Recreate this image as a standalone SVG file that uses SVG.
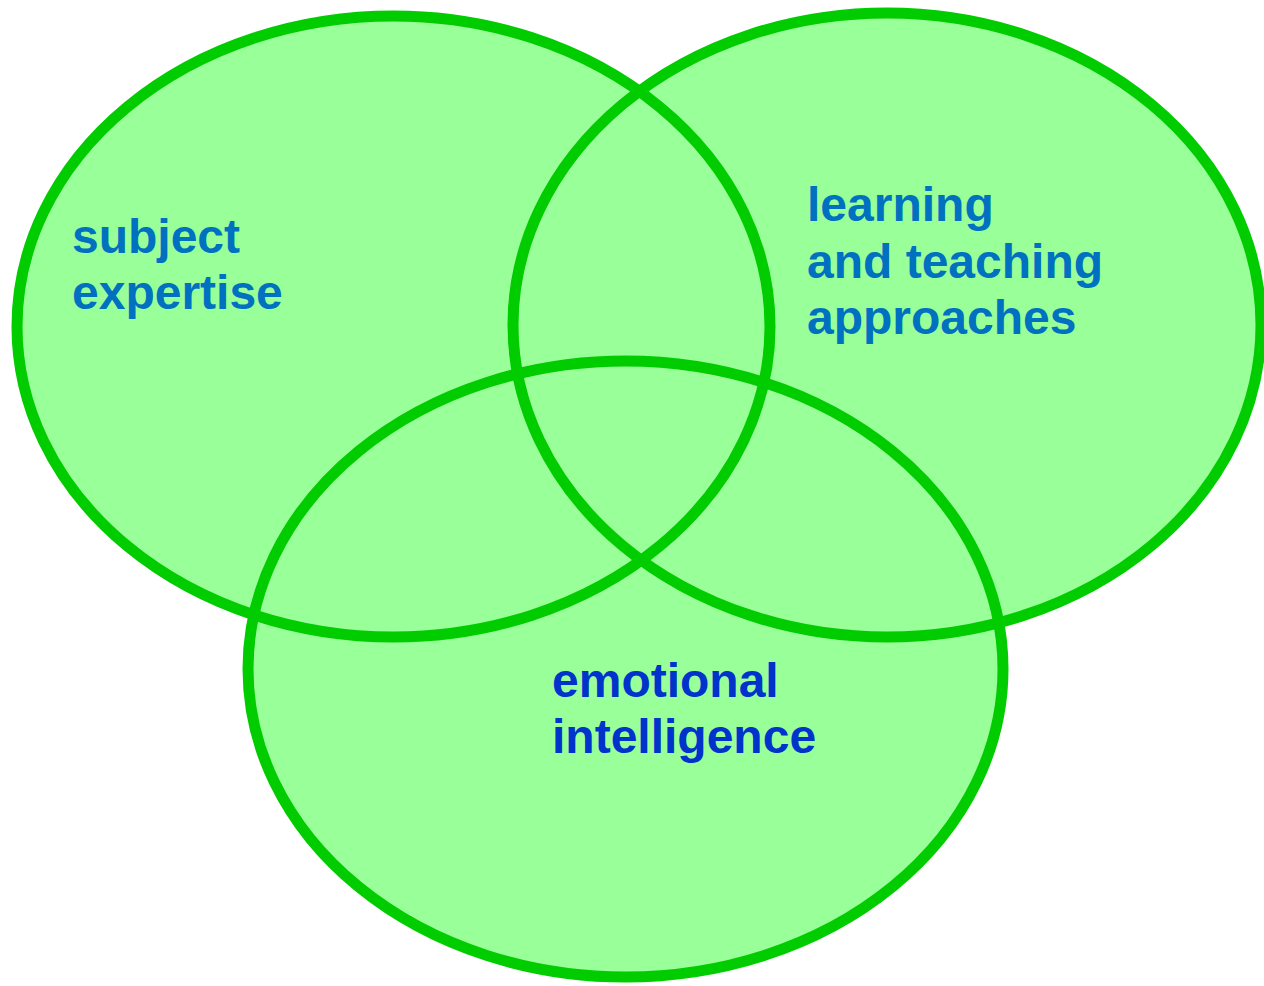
<svg xmlns="http://www.w3.org/2000/svg" width="1264" height="986" viewBox="0 0 1264 986">
<style>
.fill{fill:#99FF99;stroke:none}
.ring{fill:none;stroke:#00CC00;stroke-width:11}
.lbl{font-family:"Liberation Sans",Arial,sans-serif;font-weight:bold;font-size:48px;fill:#0070C0}
.lbl2{fill:#0033CC}
</style>
<rect width="1264" height="986" fill="#FFFFFF"/>
<g id="fills">
<ellipse class="fill" cx="393.5" cy="326.5" rx="376.5" ry="310.5"/>
<ellipse class="fill" cx="887" cy="325" rx="374" ry="312"/>
<ellipse class="fill" cx="625.5" cy="669" rx="377.5" ry="308"/>
</g>
<g id="subject-expertise">
<ellipse class="ring" cx="393.5" cy="326.5" rx="376.5" ry="310.5"/>
<text class="lbl" x="72" y="253">subject</text>
<text class="lbl" x="72" y="309">expertise</text>
</g>
<g id="learning-teaching">
<ellipse class="ring" cx="887" cy="325" rx="374" ry="312"/>
<text class="lbl" x="807" y="221">learning</text>
<text class="lbl" x="807" y="278">and teaching</text>
<text class="lbl" x="807" y="334">approaches</text>
</g>
<g id="emotional-intelligence">
<ellipse class="ring" cx="625.5" cy="669" rx="377.5" ry="308"/>
<text class="lbl lbl2" x="552" y="697">emotional</text>
<text class="lbl lbl2" x="552" y="753">intelligence</text>
</g>
<g id="connectors"></g>
</svg>
